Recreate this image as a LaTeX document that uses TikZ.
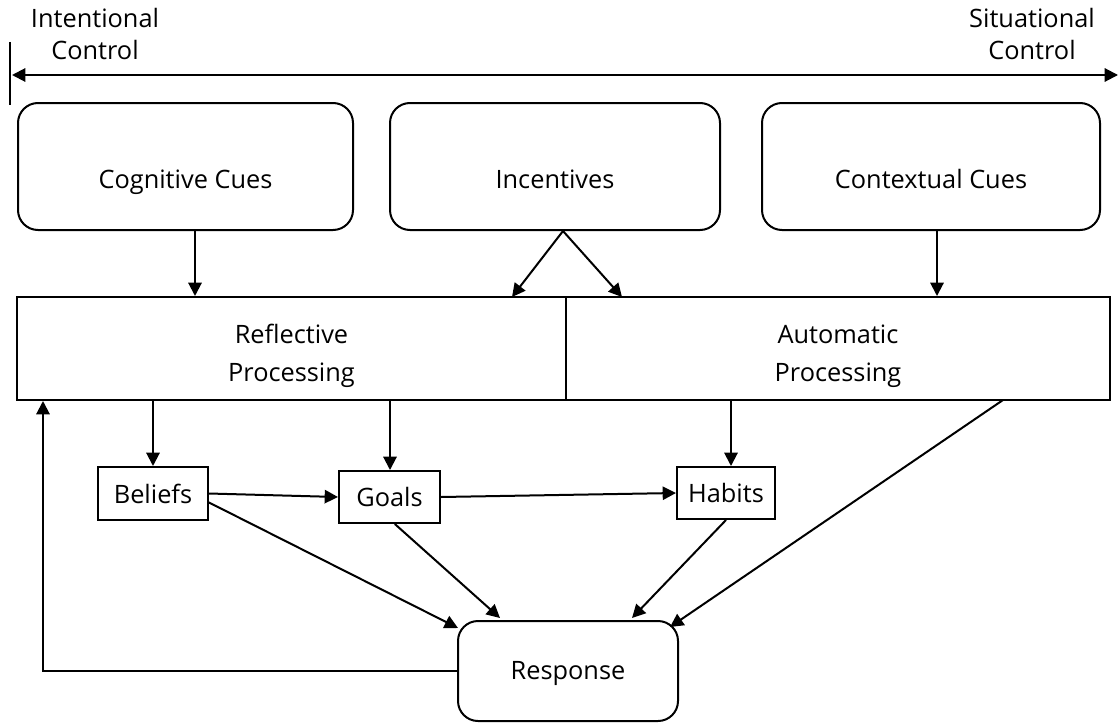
\documentclass[tikz,border=0pt]{standalone}
\usepackage{fontspec}
\setmainfont{Open Sans}
\usetikzlibrary{arrows.meta,calc}
\newcommand\lowerby[2]{\raisebox{-#1}[\height][\depth]{\strut#2}}
\newcommand\twolines[2]{\begin{tabular}{@{}c@{}}#1\\#2\end{tabular}}
\begin{document}
\begin{tikzpicture}[x=0.75pt,y=-0.75pt,
  every node/.style={font=\fontsize{19}{24}\selectfont},
  boxs/.style={draw,line width=1.5pt,inner sep=0pt,align=center},
  rbox/.style={boxs,rounded corners=15pt},
  arr/.style={line width=1.5pt,-{Triangle[length=10pt,width=10pt]}},
  dbl/.style={line width=1.5pt,{Triangle[length=10pt,width=10pt]}-{Triangle[length=10pt,width=10pt]}}]
\useasboundingbox (0,0) rectangle (1119,724);
% top axis
\coordinate (axL) at (12,75);
\coordinate (axR) at (1118,75);
\coordinate (barT) at (10,42);
\coordinate (barB) at (10,105);
\draw[line width=1.5pt] (barT) -- (barB);
\draw[dbl] (axL) -- (axR);
\node[align=center] (lint) at (95,34) {Intentional\\Control};
\node[align=center] (lsit) at (1032,34) {Situational\\Control};
% top boxes
\node[rbox,minimum width={335*0.75pt},minimum height={127*0.75pt}] (cog) at (185.5,166.5) {\lowerby{12pt}{Cognitive Cues}};
\node[rbox,minimum width={330*0.75pt},minimum height={127*0.75pt}] (inc) at (555,166.5) {\lowerby{12pt}{Incentives}};
\node[rbox,minimum width={338*0.75pt},minimum height={127*0.75pt}] (ctx) at (931,166.5) {\lowerby{12pt}{Contextual Cues}};
% processing
\node[boxs,minimum width={549*0.75pt},minimum height={103*0.75pt},font=\fontsize{19}{28}\selectfont] (refl) at (291.5,348.5) {\lowerby{5pt}{\twolines{Reflective}{Processing}}};
\node[boxs,minimum width={544*0.75pt},minimum height={103*0.75pt},font=\fontsize{19}{28}\selectfont] (auto) at (838,348.5) {\lowerby{5pt}{\twolines{Automatic}{Processing}}};
% small boxes
\node[boxs,minimum width={110*0.75pt},minimum height={53*0.75pt}] (bel) at (153,493.5) {\lowerby{2.5pt}{Beliefs}};
\node[boxs,minimum width={101*0.75pt},minimum height={52*0.75pt}] (goal) at (389.5,497) {\lowerby{2.5pt}{Goals}};
\node[boxs,minimum width={98*0.75pt},minimum height={52*0.75pt}] (hab) at (726,493) {\lowerby{2.5pt}{Habits}};
\node[rbox,minimum width={220*0.75pt},minimum height={100*0.75pt}] (resp) at (568,671) {\lowerby{1.5pt}{Response}};
% helper coordinates
\coordinate (xa) at (195,0);
\coordinate (xb) at (937,0);
\coordinate (xc) at (153,0);
\coordinate (xd) at (390,0);
\coordinate (xe) at (731,0);
\coordinate (xf) at (43,0);
\coordinate (incS) at (563,231);
\coordinate (incL) at (512,297);
\coordinate (incR) at (622,297);
\coordinate (belS) at (208,502);
\coordinate (respA) at (458,628);
\coordinate (respB) at (500,618);
\coordinate (respC) at (632,618);
\coordinate (respD) at (670,627);
\coordinate (autoS) at (1003,400);
% arrows
\draw[arr] (cog.south -| xa) -- (refl.north -| xa);
\draw[arr] (ctx.south -| xb) -- (auto.north -| xb);
\draw[arr] (incS) -- (incL);
\draw[arr] (incS) -- (incR);
\draw[arr] (refl.south -| xc) -- (bel.north);
\draw[arr] (refl.south -| xd) -- (goal.north -| xd);
\draw[arr] (auto.south -| xe) -- (hab.north -| xe);
\draw[arr] (bel.east) -- (goal.west);
\draw[arr] (goal.east) -- (hab.west);
\draw[arr] (belS) -- (respA);
\draw[arr] ([xshift=4pt]goal.south) -- (respB);
\draw[arr] (hab.south) -- (respC);
\draw[arr] (autoS) -- (respD);
\draw[arr] (resp.west) -- (resp.west -| xf) -- (refl.south -| xf);
\end{tikzpicture}
\end{document}
